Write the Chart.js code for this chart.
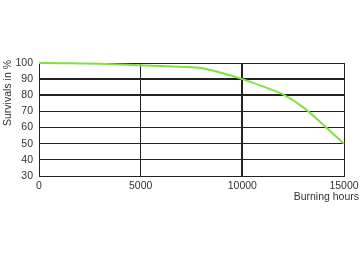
<!DOCTYPE html>
<html><head><meta charset="utf-8">
<script src="https://cdn.jsdelivr.net/npm/chart.js@4/dist/chart.umd.min.js"></script>
<style>html,body{margin:0;padding:0;background:#fff;}#wrap{width:360px;height:262px;}</style>
</head><body><div id="wrap"><canvas id="c" width="360" height="262"></canvas></div>
<script>
const hours = [0,1000,2000,3000,4000,5000,6000,7000,8000,9000,10000,11000,12000,13000,14000,15000];
const survivals = [100,99.9,99.7,99.5,99.1,98.6,98.1,97.6,96.8,93.8,90,85.5,80.5,72.5,61.5,50];
const yTicks = [30,40,50,60,70,80,90,100];
const xTicks = [0,5000,10000,15000];
const yTitle = 'Survivals in %';
const xTitle = 'Burning hours';
const FONT = '"Liberation Sans", Arial, sans-serif';

const textPlugin = {
  id:'texts',
  afterDraw(chart){
    const ctx = chart.ctx;
    ctx.save();
    ctx.fillStyle = '#333';
    ctx.font = '10.5px ' + FONT;
    ctx.textAlign = 'right';
    ctx.textBaseline = 'middle';
    ctx.fillText(xTitle, 359, 197);
    ctx.translate(8, 93);
    ctx.rotate(-Math.PI/2);
    ctx.textAlign = 'center';
    ctx.fillText(yTitle, 0, 0);
    ctx.restore();
  }
};

new Chart(document.getElementById('c'), {
  type:'line',
  data:{ datasets:[{ data: hours.map((h,i)=>({x:h,y:survivals[i]})), borderColor:'#7de33a', borderWidth:2, pointRadius:0, cubicInterpolationMode:'monotone', fill:false, clip:false }]},
  options:{
    responsive:false, animation:false, devicePixelRatio:1,
    layout:{padding:{left:0,top:63,right:16,bottom:0}},
    plugins:{legend:{display:false},tooltip:{enabled:false}},
    scales:{
      x:{ type:'linear', min:0, max:15000,
        afterBuildTicks(s){ s.ticks = xTicks.map(v=>({value:v})); },
        afterFit(s){ s.height = 86; s.paddingRight = 0; s.paddingLeft = 0; },
        grid:{ drawTicks:false, color:'#222', lineWidth:c=>c.tick && c.tick.value===10000?2:1 },
        border:{display:true, color:'#222', width:1},
        ticks:{ autoSkip:false, padding:4, color:'#333', font:{family:FONT, size:10.5}, maxRotation:0, callback:v=>String(v) }
      },
      y:{ min:30, max:100,
        afterBuildTicks(s){ s.ticks = yTicks.map(v=>({value:v})); },
        afterFit(s){ s.width = 39; s.paddingTop = 0; s.paddingBottom = 0; },
        grid:{ drawTicks:false, color:'#222', lineWidth:c=>c.tick && (c.tick.value===80||c.tick.value===90)?2:1 },
        border:{display:true, color:'#222', width:1},
        ticks:{ autoSkip:false, padding:6, color:'#333', font:{family:FONT, size:10.5} }
      }
    }
  },
  plugins:[textPlugin]
});
</script></body></html>
